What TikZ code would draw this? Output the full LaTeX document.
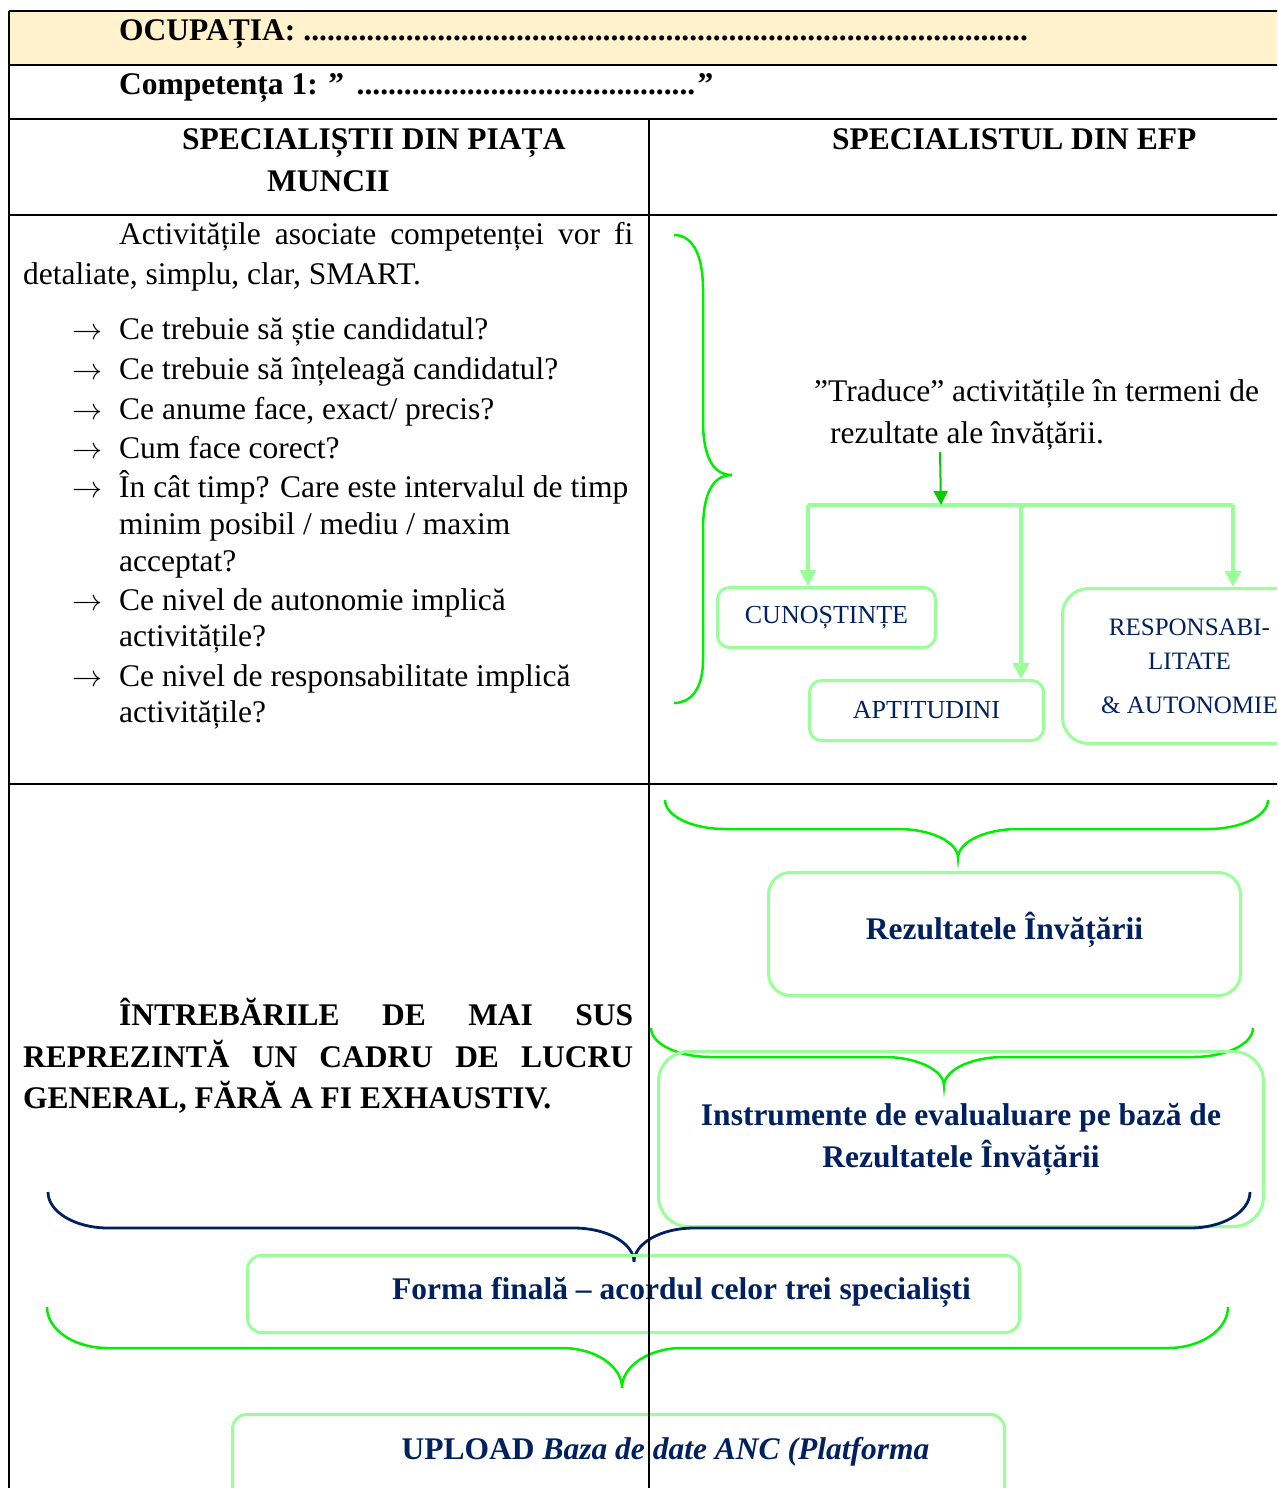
\documentclass[tikz,border=0pt]{standalone}
\usepackage{graphicx}
\usepackage{fontspec}
\setmainfont{Liberation Serif}
\usetikzlibrary{arrows.meta}
\definecolor{hdrfill}{RGB}{255,242,204}
\definecolor{brlime}{RGB}{0,238,0}
\definecolor{lgreen}{RGB}{153,255,153}
\definecolor{navyc}{RGB}{0,32,96}
\definecolor{argreen}{RGB}{0,204,0}
\newcommand\qarrow{\makebox[47pt][l]{\resizebox{30pt}{!}{$\rightarrow$}}}
\newcommand\HBrace[7]{%
\draw[#1] (#2,#4) .. controls (#2,{#4+0.55*(#5-#4)}) and ({#2+27},#5) .. ({#2+60},#5) -- ({#6-60},#5) .. controls ({#6-27},#5) and (#6,{#7-0.55*(#7-#5)}) .. (#6,#7) .. controls (#6,{#7-0.55*(#7-#5)}) and ({#6+27},#5) .. ({#6+60},#5) -- ({#3-60},#5) .. controls ({#3-27},#5) and (#3,{#4+0.55*(#5-#4)}) .. (#3,#4);}
\tikzset{
 txt/.style={inner sep=0pt, anchor=base west, font=\fontsize{31.5}{40}\selectfont},
 btxt/.style={inner sep=0pt, anchor=base west, font=\fontsize{31.5}{40}\selectfont\bfseries},
 gbox/.style={draw=lgreen, line width=3pt, rounded corners=#1, inner sep=0pt, text=navyc, anchor=north west},
 gbox/.default=14pt,
 tline/.style={line width=2pt, black},
 limebrace/.style={draw=brlime, line width=2.5pt},
 navybrace/.style={draw=navyc, line width=2.8pt},
 conn/.style={draw=lgreen, line width=4pt},
 connarrow/.style={draw=lgreen, line width=4pt, -{Triangle[width=16pt,length=16pt]}},
 tarrow/.style={draw=argreen, line width=2pt, -{Triangle[width=14pt,length=14pt]}},
}
\begin{document}
\begin{tikzpicture}[x=1pt,y=-1pt]
\useasboundingbox (0,0) rectangle (1277,1488);
\clip (0,0) rectangle (1277,1488);
\fill[hdrfill] (9,11) rectangle (1290,65);

% header texts
\node[btxt] (ocup) at (119,41) {OCUPAȚIA: \cleaders\hbox{.}\hskip 725pt\null};
\node[btxt] (comp) at (119,95) {Competența 1: ” \cleaders\hbox{.}\hskip 343pt”};
\node[btxt] (h1a) at (182,149) {SPECIALIȘTII DIN PIAȚA};
\node[btxt] (h1b) at (267,191) {MUNCII};
\node[btxt] (h2) at (832,149) {SPECIALISTUL DIN EFP};

% left column
\node[txt] (p1) at (119,244) {\makebox[514pt][s]{Activitățile asociate competenței vor fi}};
\node[txt] (p2) at (23,284) {detaliate, simplu, clar, SMART.};
\node[txt] (q1) at (72,339) {\qarrow Ce trebuie să știe candidatul?};
\node[txt] (q2) at (72,379) {\qarrow Ce trebuie să înțeleagă candidatul?};
\node[txt] (q3) at (72,419) {\qarrow Ce anume face, exact/ precis?};
\node[txt] (q4) at (72,458) {\qarrow Cum face corect?};
\node[txt] (q5) at (72,497) {\qarrow În cât timp? Care este intervalul de timp};
\node[txt] (q5b) at (119,534) {minim posibil / mediu / maxim};
\node[txt] (q5c) at (119,571) {acceptat?};
\node[txt] (q6) at (72,610) {\qarrow Ce nivel de autonomie implică};
\node[txt] (q6b) at (119,646) {activitățile?};
\node[txt] (q7) at (72,686) {\qarrow Ce nivel de responsabilitate implică};
\node[txt] (q7b) at (119,722) {activitățile?};

\node[btxt] (w1) at (119,1025) {\makebox[514pt][s]{ÎNTREBĂRILE DE MAI SUS}};
\node[btxt] (w2) at (23,1067) {\makebox[610pt][s]{REPREZINTĂ UN CADRU DE LUCRU}};
\node[btxt] (w3) at (23,1108) {GENERAL, FĂRĂ A FI EXHAUSTIV.};

% right column upper
\draw[limebrace] (674,235) .. controls (690,235) and (703,250) .. (703,290) -- (703,420) .. controls (703,455) and (712,475) .. (732,475) .. controls (712,475) and (703,495) .. (703,530) -- (703,660) .. controls (703,690) and (690,703) .. (674,703);
\node[txt] (tr1) at (814,401) {”Traduce” activitățile în termeni de};
\node[txt] (tr2) at (830,443) {rezultate ale învățării.};

\node[gbox=12pt, minimum width=218pt, minimum height=60pt, font=\fontsize{26}{30}\selectfont] (cun) at (716,586) {CUNOȘTINȚE};
\node[gbox=12pt, minimum width=234pt, minimum height=60pt, font=\fontsize{26}{30}\selectfont] (apt) at (808,679) {APTITUDINI};
\node[gbox=26pt, minimum width=254pt, minimum height=155pt, align=center, font=\fontsize{25}{34}\selectfont] (resp) at (1061,587) {RESPONSABI-\\LITATE\\[10pt]\& AUTONOMIE};

\coordinate (ta) at (940,452);
\coordinate (hc) at (941,505);
\coordinate (hl) at (808,505);
\coordinate (hm) at (1021,505);
\coordinate (hr) at (1233,505);
\draw[conn] (hl) -- (hr);
\draw[connarrow] (hl) -- (hl |- cun.north);
\draw[connarrow] (hm) -- (hm |- apt.north);
\draw[connarrow] (hr) -- (hr |- resp.north);
\draw[tarrow] (ta) -- (hc);

% lower right
\HBrace{limebrace}{665}{1268}{800}{829}{958}{858}
\node[gbox=22pt, minimum width=472pt, minimum height=123pt, font=\fontsize{31.5}{40}\selectfont\bfseries, text height=25pt, text depth=14pt] (rez) at (767,871) {Rezultatele Învățării};
\HBrace{limebrace}{651}{1253}{1028}{1057}{944}{1086}
\node[gbox=30pt, minimum width=605pt, minimum height=175pt, align=center, font=\fontsize{31.5}{42}\selectfont\bfseries] (instr) at (657,1050) {Instrumente de evalualuare pe bază de\\Rezultatele Învățării};
\HBrace{navybrace}{48}{1250}{1192}{1228}{634}{1262}
\node[gbox=14pt, minimum width=772pt, minimum height=77pt, font=\fontsize{31.5}{40}\selectfont\bfseries, text height=25pt, text depth=14pt] (forma) at (246,1254) {\hspace*{96pt}Forma finală – acordul celor trei specialiști};
\HBrace{limebrace}{47}{1228}{1307}{1348}{622}{1388}
\node[gbox=14pt, minimum width=772pt, minimum height=97pt, font=\fontsize{31.5}{40}\selectfont\bfseries, text height=20pt, text depth=28pt] (upl) at (231,1413) {\hspace*{94pt}UPLOAD \textit{Baza de date ANC (Platforma}};

% table lines
\draw[tline] (9,11) -- (1290,11);
\draw[tline] (9,65) -- (1290,65);
\draw[tline] (9,119) -- (1290,119);
\draw[tline] (9,215) -- (1290,215);
\draw[tline] (9,784) -- (1290,784);
\draw[tline] (9,11) -- (9,1500);
\draw[tline] (649,119) -- (649,1500);
\end{tikzpicture}
\end{document}
